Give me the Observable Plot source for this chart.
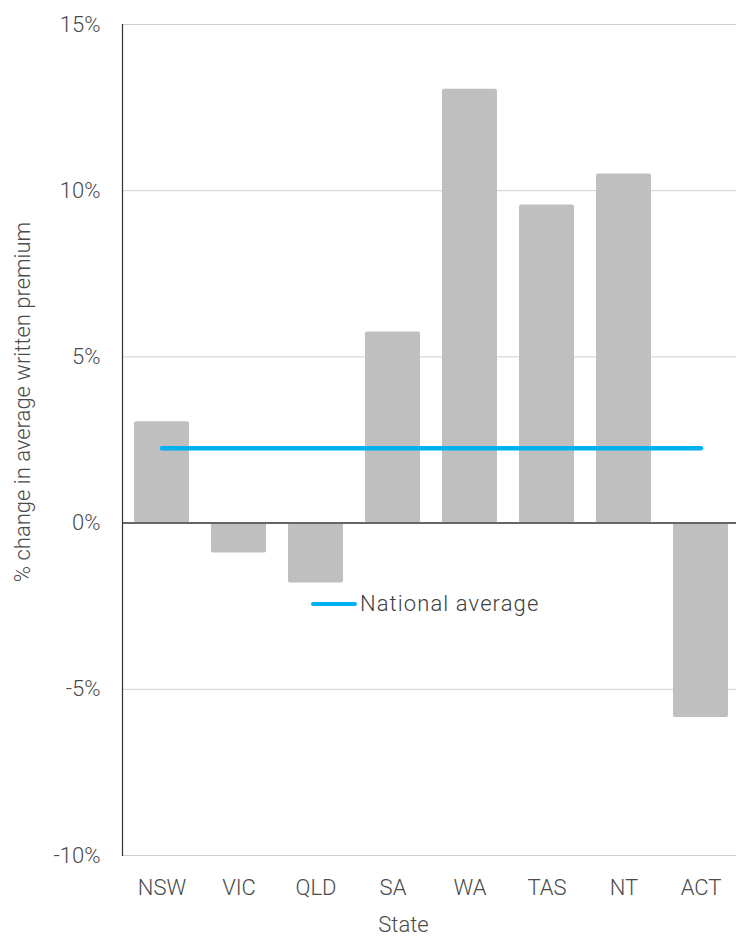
<!DOCTYPE html>
<html>
<head>
<meta charset="utf-8">
<script src="https://cdn.jsdelivr.net/npm/d3@7"></script>
<script src="https://cdn.jsdelivr.net/npm/@observablehq/plot@0.6"></script>
<style>
  html, body { margin: 0; padding: 0; background: #fff; }
  #wrap { position: relative; width: 736px; height: 936px; font-family: Roboto, "Liberation Sans", sans-serif; }
  #legend { position: absolute; left: 311px; top: 591px; display: flex; align-items: center; color: #404040; font-size: 22px; font-weight: 300; letter-spacing: 1.1px; }
  #legend .sw { width: 46px; height: 4px; border-radius: 2px; background: #00b0f0; margin-right: 3px; }
</style>
</head>
<body>
<div id="wrap"><div id="legend"><span class="sw"></span><span>National average</span></div></div>
<script>
const states = ["NSW", "VIC", "QLD", "SA", "WA", "TAS", "NT", "ACT"];
const changes = [3.05, -0.9, -1.8, 5.75, 13.05, 9.57, 10.5, -5.85];
const nationalAverage = 2.25;
const yTicks = [-10, -5, 0, 5, 10, 15];

const data = states.map((s, i) => ({state: s, value: changes[i]}));
const avgLine = states.map(s => ({state: s, value: nationalAverage}));

const textColor = "#4a4a4a";

const chart = Plot.plot({
  width: 736,
  height: 936,
  marginTop: 24,
  marginBottom: 81,
  marginLeft: 122,
  marginRight: 0,
  style: {fontFamily: "Roboto, 'Liberation Sans', sans-serif", fontSize: "21px", fontWeight: 300, color: textColor, background: "#fff"},
  x: {domain: states, range: [122, 739], paddingInner: 0.29, paddingOuter: 0.145, label: null},
  y: {domain: [-10, 15], label: null},
  marks: [
    Plot.gridY(yTicks, {stroke: "#d0d0d0", strokeOpacity: 1, strokeWidth: 1}),
    Plot.barY(data, {x: "state", y: "value", fill: "#bfbfbf", rx: 2}),
    Plot.ruleY([0], {stroke: "#666", strokeWidth: 2}),
    Plot.frame({anchor: "left", stroke: "#333", strokeWidth: 1.2}),
    Plot.lineY(avgLine, {x: "state", y: "value", stroke: "#00b0f0", strokeWidth: 4.5, strokeLinecap: "round"}),
    Plot.axisY(yTicks, {tickSize: 0, tickPadding: 22, tickFormat: d => `${d}%`, fontSize: 22, fill: textColor, label: null}),
    Plot.axisX({tickSize: 0, tickPadding: 24, fontSize: 22, fill: textColor, label: null, letterSpacing: 0.6}),
    Plot.text(["% change in average written premium"], {frameAnchor: "left", textAnchor: "middle", dx: -100, dy: -38, rotate: -90, fontSize: 22, fill: textColor, letterSpacing: 1.2}),
    Plot.text(["State"], {frameAnchor: "bottom", dx: -26, dy: 76, fontSize: 22, fill: textColor, letterSpacing: 0.6})
  ]
});
document.getElementById("wrap").prepend(chart);
</script>
</body>
</html>
